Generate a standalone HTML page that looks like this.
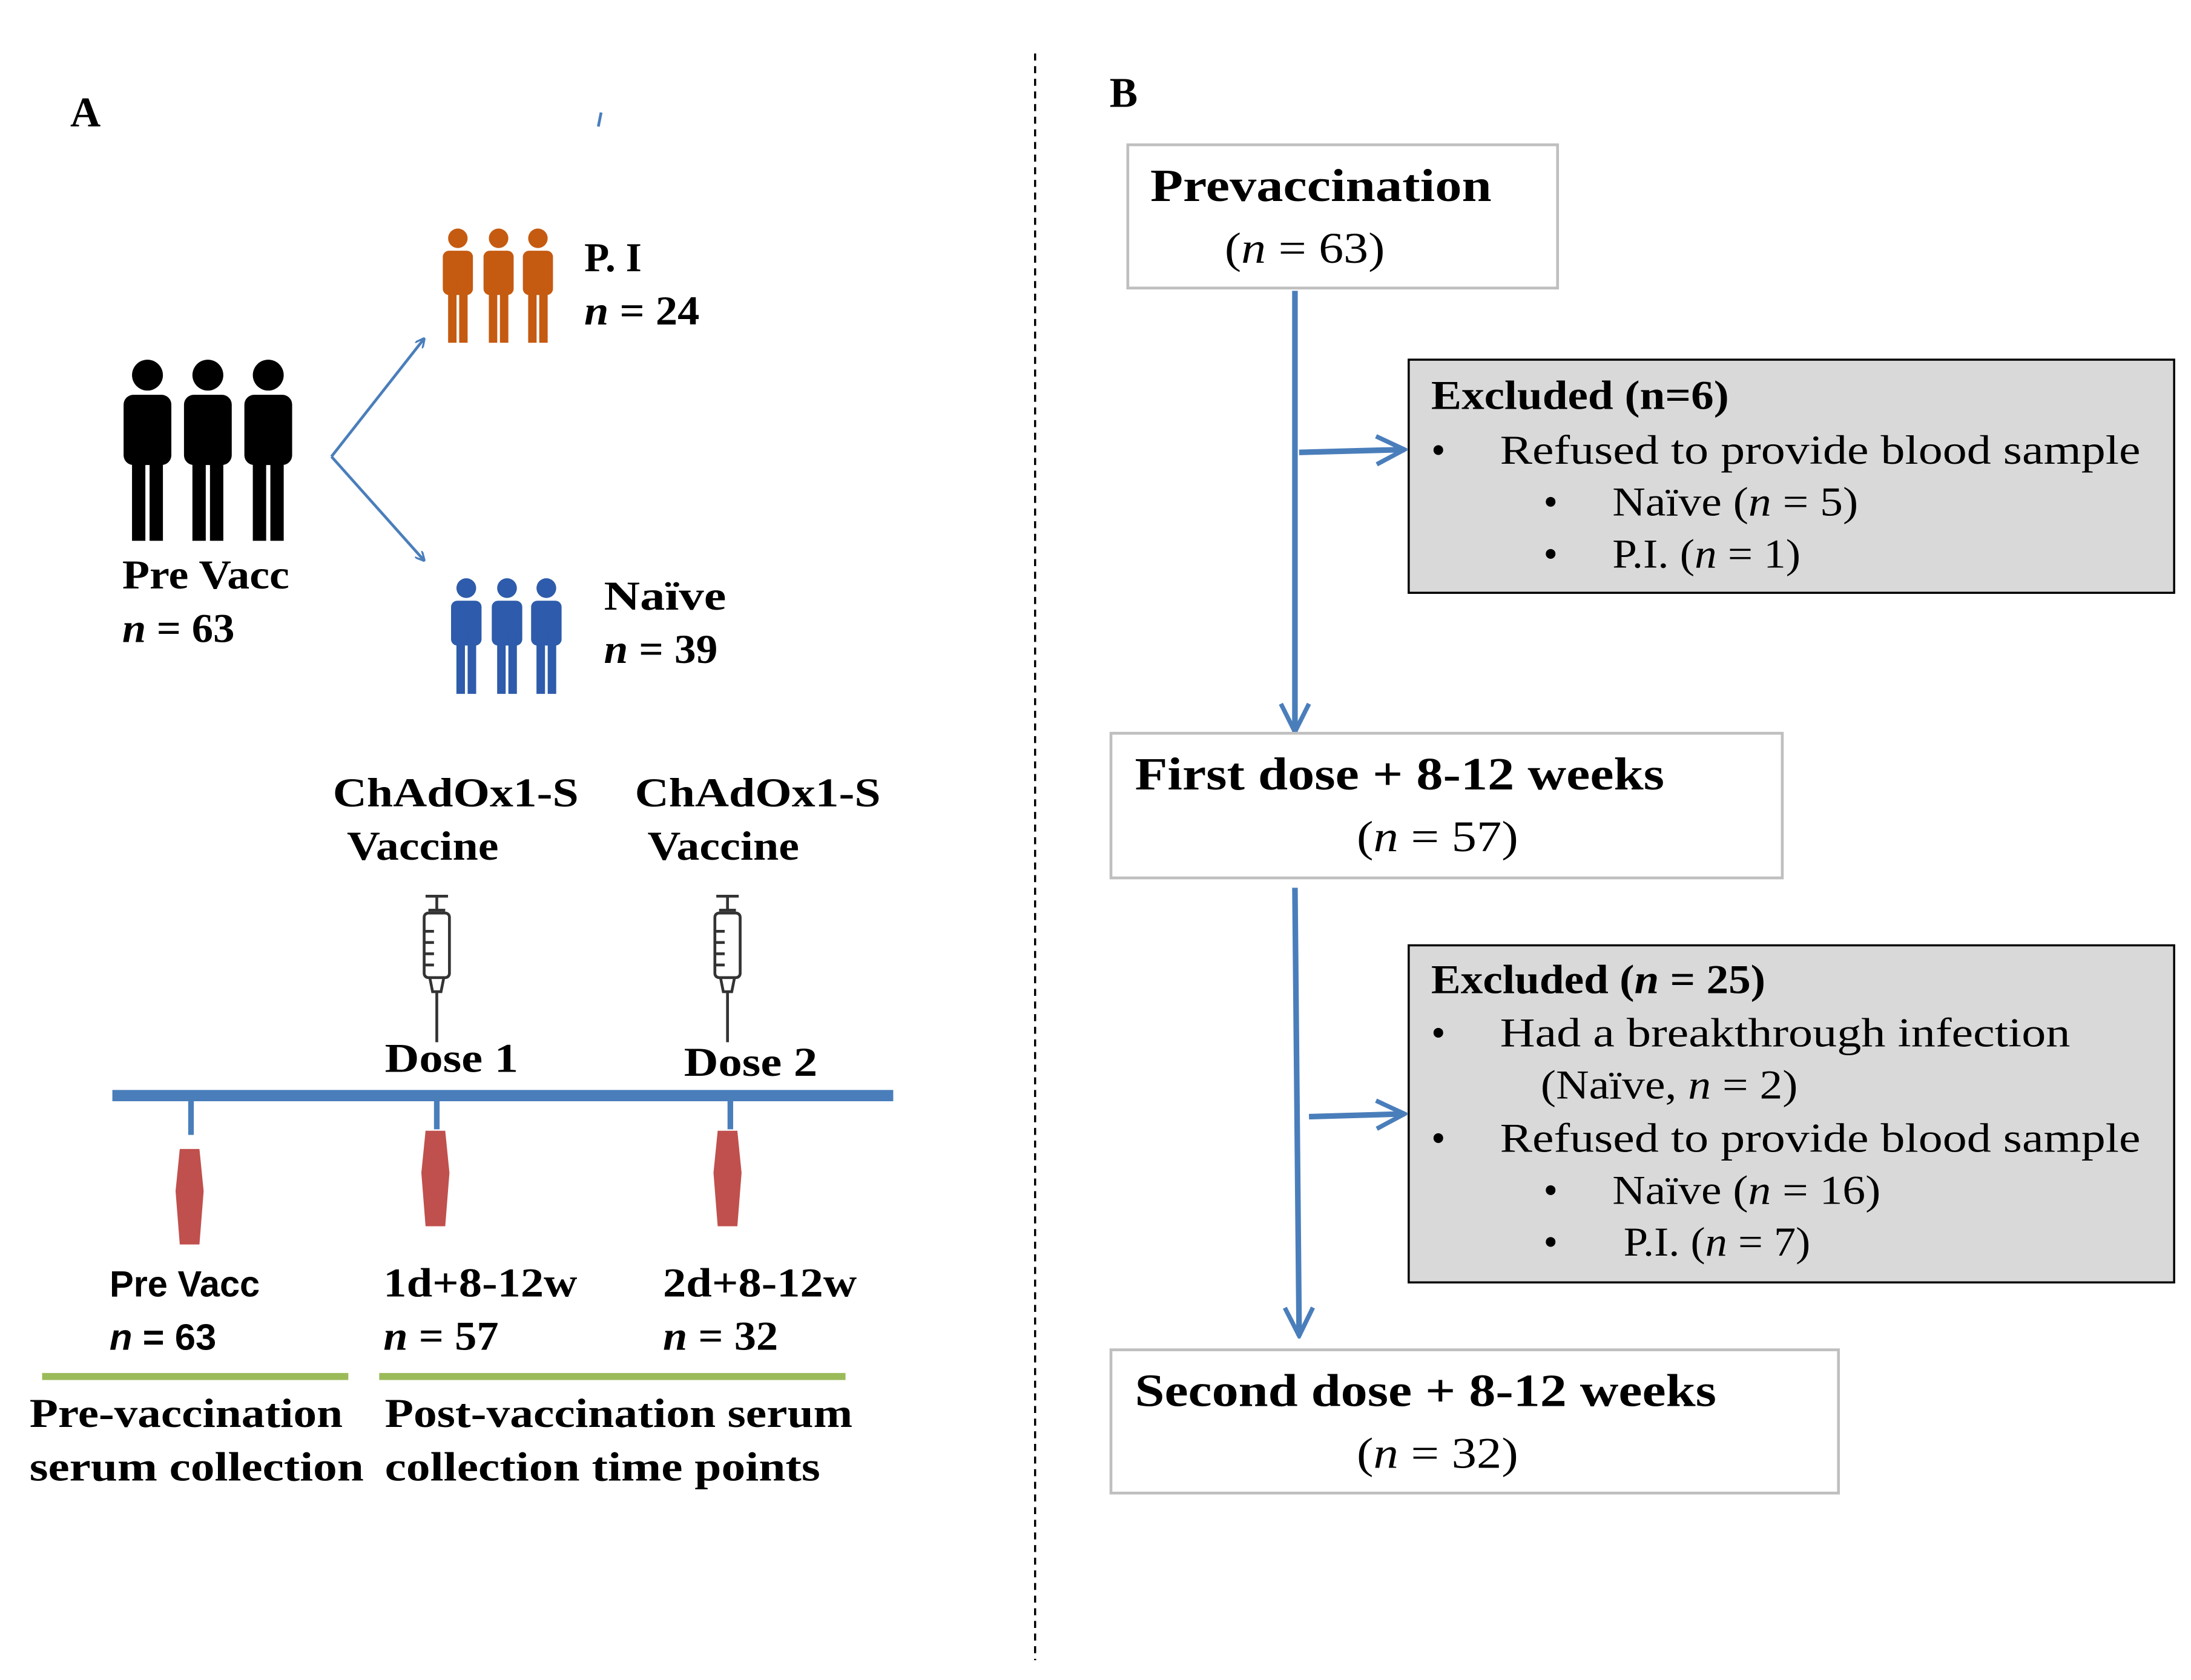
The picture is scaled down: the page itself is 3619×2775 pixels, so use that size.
<!DOCTYPE html>
<html><head><meta charset="utf-8">
<style>
html,body{margin:0;padding:0;background:#fff;}
svg{display:block;}
text{font-family:"Liberation Serif",serif;fill:#000;}
.b{font-weight:bold;}
</style></head>
<body>
<svg width="3619" height="2775" viewBox="0 0 1560 1196" xmlns="http://www.w3.org/2000/svg">
<defs>
<symbol id="p" viewBox="0 0 40 130">
<circle cx="20" cy="12" r="11"/>
<rect x="3" y="26" width="34" height="50" rx="7"/>
<rect x="9" y="60" width="9.5" height="70"/>
<rect x="21.5" y="60" width="9.5" height="70"/>
</symbol>
<marker id="ah" viewBox="0 0 10 10" refX="9" refY="5" markerWidth="7" markerHeight="7" orient="auto" markerUnits="userSpaceOnUse">
<path d="M0,0 L10,5 L0,10" fill="none" stroke="#4a7ebb" stroke-width="2"/>
</marker>
<marker id="ah2" viewBox="0 0 12 12" refX="11" refY="6" markerWidth="24" markerHeight="24" orient="auto" markerUnits="userSpaceOnUse">
<path d="M1,1 L11,6 L1,11" fill="none" stroke="#4a7ebb" stroke-width="1.6"/>
</marker>
<g id="syr" fill="none" stroke="#333" stroke-width="2">
<line x1="-8" y1="0" x2="8" y2="0"/>
<line x1="0" y1="0" x2="0" y2="10"/>
<line x1="-6" y1="10" x2="6" y2="10"/>
<rect x="-9" y="12" width="18" height="46" rx="3"/>
<line x1="-9" y1="25" x2="-2" y2="25"/><line x1="-9" y1="33" x2="-2" y2="33"/><line x1="-9" y1="41" x2="-2" y2="41"/><line x1="-9" y1="49" x2="-2" y2="49"/>
<path d="M-5,58 L-3,68 L3,68 L5,58"/>
<line x1="0" y1="68" x2="0" y2="104"/>
</g>
<path id="tube" d="M-7,0 L7,0 L10,30 L7,68 L-7,68 L-10,30 Z" fill="#c0504d"/>
</defs>

<text x="50" y="90" class="b" font-size="30">A</text>
<line x1="428" y1="80" x2="426" y2="90" stroke="#4a7ebb" stroke-width="2"/>

<g fill="#000">
<use href="#p" x="82" y="255" width="46" height="130"/>
<use href="#p" x="168" y="255" width="46" height="130"/>
<use href="#p" x="123" y="255" width="50" height="130"/>
</g>
<g fill="#c55a11">
<use href="#p" x="311" y="162" width="30" height="82"/>
<use href="#p" x="368" y="162" width="30" height="82"/>
<use href="#p" x="339" y="162" width="32" height="82"/>
</g>
<g fill="#2e5bab">
<use href="#p" x="317" y="411" width="30" height="83"/>
<use href="#p" x="374" y="411" width="30" height="83"/>
<use href="#p" x="345" y="411" width="32" height="83"/>
</g>

<line x1="236" y1="325" x2="302" y2="241" stroke="#4a7ebb" stroke-width="2" marker-end="url(#ah)"/>
<line x1="236" y1="325" x2="302" y2="399" stroke="#4a7ebb" stroke-width="2" marker-end="url(#ah)"/>

<text x="416" y="193" class="b" font-size="29">P. I</text>
<text x="416" y="231" class="b" font-size="29" textLength="82" lengthAdjust="spacingAndGlyphs"><tspan font-style="italic">n</tspan> = 24</text>
<text x="87" y="419" class="b" font-size="29" textLength="119" lengthAdjust="spacingAndGlyphs">Pre Vacc</text>
<text x="87" y="457" class="b" font-size="29" textLength="80" lengthAdjust="spacingAndGlyphs"><tspan font-style="italic">n</tspan> = 63</text>
<text x="430" y="434" class="b" font-size="29" textLength="87" lengthAdjust="spacingAndGlyphs">Naïve</text>
<text x="430" y="472" class="b" font-size="29" textLength="81" lengthAdjust="spacingAndGlyphs"><tspan font-style="italic">n</tspan> = 39</text>

<text x="237" y="574" class="b" font-size="29" textLength="175" lengthAdjust="spacingAndGlyphs">ChAdOx1-S</text>
<text x="247" y="612" class="b" font-size="29" textLength="108" lengthAdjust="spacingAndGlyphs">Vaccine</text>
<text x="452" y="574" class="b" font-size="29" textLength="175" lengthAdjust="spacingAndGlyphs">ChAdOx1-S</text>
<text x="461" y="612" class="b" font-size="29" textLength="108" lengthAdjust="spacingAndGlyphs">Vaccine</text>

<use href="#syr" x="311" y="638"/>
<use href="#syr" x="518" y="638"/>

<text x="274" y="763" class="b" font-size="29" textLength="95" lengthAdjust="spacingAndGlyphs">Dose 1</text>
<text x="487" y="766" class="b" font-size="29" textLength="95" lengthAdjust="spacingAndGlyphs">Dose 2</text>

<line x1="80" y1="780" x2="636" y2="780" stroke="#4a7ebb" stroke-width="8"/>
<g stroke="#4a7ebb" stroke-width="4">
<line x1="136" y1="784" x2="136" y2="808"/>
<line x1="311" y1="784" x2="311" y2="804"/>
<line x1="520" y1="784" x2="520" y2="804"/>
</g>
<use href="#tube" x="135" y="818"/>
<use href="#tube" x="310" y="805"/>
<use href="#tube" x="518" y="805"/>

<text x="78" y="923" class="b" font-size="26" style="font-family:'Liberation Sans',sans-serif" textLength="107" lengthAdjust="spacingAndGlyphs">Pre Vacc</text>
<text x="78" y="961" class="b" font-size="26" style="font-family:'Liberation Sans',sans-serif" textLength="76" lengthAdjust="spacingAndGlyphs"><tspan font-style="italic">n</tspan> = 63</text>
<text x="273" y="923" class="b" font-size="29" textLength="138" lengthAdjust="spacingAndGlyphs">1d+8-12w</text>
<text x="273" y="961" class="b" font-size="29" textLength="82" lengthAdjust="spacingAndGlyphs"><tspan font-style="italic">n</tspan> = 57</text>
<text x="472" y="923" class="b" font-size="29" textLength="138" lengthAdjust="spacingAndGlyphs">2d+8-12w</text>
<text x="472" y="961" class="b" font-size="29" textLength="82" lengthAdjust="spacingAndGlyphs"><tspan font-style="italic">n</tspan> = 32</text>

<line x1="30" y1="980" x2="248" y2="980" stroke="#9bbb59" stroke-width="5"/>
<line x1="270" y1="980" x2="602" y2="980" stroke="#9bbb59" stroke-width="5"/>

<text x="21" y="1016" class="b" font-size="29" textLength="223" lengthAdjust="spacingAndGlyphs">Pre-vaccination</text>
<text x="21" y="1054" class="b" font-size="29" textLength="238" lengthAdjust="spacingAndGlyphs">serum collection</text>
<text x="274" y="1016" class="b" font-size="29" textLength="333" lengthAdjust="spacingAndGlyphs">Post-vaccination serum</text>
<text x="274" y="1054" class="b" font-size="29" textLength="310" lengthAdjust="spacingAndGlyphs">collection time points</text>

<line x1="737" y1="38" x2="737" y2="1182" stroke="#000" stroke-width="1.5" stroke-dasharray="5,4"/>

<text x="790" y="76" class="b" font-size="30">B</text>

<rect x="803" y="103" width="306" height="102" fill="#fff" stroke="#bfbfbf" stroke-width="2"/>
<text x="819" y="143" class="b" font-size="33" textLength="243" lengthAdjust="spacingAndGlyphs">Prevaccination</text>
<text x="872" y="187" font-size="31" textLength="114" lengthAdjust="spacingAndGlyphs">(<tspan font-style="italic">n</tspan> = 63)</text>

<line x1="922" y1="207" x2="922" y2="521" stroke="#4a7ebb" stroke-width="4" marker-end="url(#ah2)"/>
<line x1="925" y1="322" x2="1000" y2="320" stroke="#4a7ebb" stroke-width="4" marker-end="url(#ah2)"/>

<rect x="1003" y="256" width="545" height="166" fill="#d9d9d9" stroke="#000" stroke-width="1.5"/>
<text x="1019" y="291" font-size="29" class="b" textLength="212" lengthAdjust="spacingAndGlyphs">Excluded (n=6)</text>
<text x="1019" y="330" font-size="29">•</text>
<text x="1068" y="330" font-size="29" textLength="456" lengthAdjust="spacingAndGlyphs">Refused to provide blood sample</text>
<text x="1099" y="367" font-size="29">•</text>
<text x="1148" y="367" font-size="29" textLength="175" lengthAdjust="spacingAndGlyphs">Naïve (<tspan font-style="italic">n</tspan> = 5)</text>
<text x="1099" y="404" font-size="29">•</text>
<text x="1148" y="404" font-size="29" textLength="134" lengthAdjust="spacingAndGlyphs">P.I. (<tspan font-style="italic">n</tspan> = 1)</text>

<rect x="791" y="522" width="478" height="103" fill="#fff" stroke="#bfbfbf" stroke-width="2"/>
<text x="808" y="562" class="b" font-size="33" textLength="377" lengthAdjust="spacingAndGlyphs">First dose +  8-12 weeks</text>
<text x="966" y="606" font-size="31" textLength="115" lengthAdjust="spacingAndGlyphs">(<tspan font-style="italic">n</tspan> = 57)</text>

<line x1="922" y1="632" x2="925" y2="951" stroke="#4a7ebb" stroke-width="4" marker-end="url(#ah2)"/>
<line x1="932" y1="795" x2="1000" y2="793" stroke="#4a7ebb" stroke-width="4" marker-end="url(#ah2)"/>

<rect x="1003" y="673" width="545" height="240" fill="#d9d9d9" stroke="#000" stroke-width="1.5"/>
<text x="1019" y="707" font-size="29" class="b" textLength="238" lengthAdjust="spacingAndGlyphs">Excluded (<tspan font-style="italic">n</tspan> = 25)</text>
<text x="1019" y="745" font-size="29">•</text>
<text x="1068" y="745" font-size="29" textLength="406" lengthAdjust="spacingAndGlyphs">Had a breakthrough infection</text>
<text x="1097" y="782" font-size="29" textLength="183" lengthAdjust="spacingAndGlyphs">(Naïve, <tspan font-style="italic">n</tspan> = 2)</text>
<text x="1019" y="820" font-size="29">•</text>
<text x="1068" y="820" font-size="29" textLength="456" lengthAdjust="spacingAndGlyphs">Refused to provide blood sample</text>
<text x="1099" y="857" font-size="29">•</text>
<text x="1148" y="857" font-size="29" textLength="191" lengthAdjust="spacingAndGlyphs">Naïve (<tspan font-style="italic">n</tspan> = 16)</text>
<text x="1099" y="894" font-size="29">•</text>
<text x="1156" y="894" font-size="29" textLength="133" lengthAdjust="spacingAndGlyphs">P.I. (<tspan font-style="italic">n</tspan> = 7)</text>

<rect x="791" y="961" width="518" height="102" fill="#fff" stroke="#bfbfbf" stroke-width="2"/>
<text x="808" y="1001" class="b" font-size="33" textLength="414" lengthAdjust="spacingAndGlyphs">Second dose + 8-12 weeks</text>
<text x="966" y="1045" font-size="31" textLength="115" lengthAdjust="spacingAndGlyphs">(<tspan font-style="italic">n</tspan> = 32)</text>
</svg>
</body></html>
